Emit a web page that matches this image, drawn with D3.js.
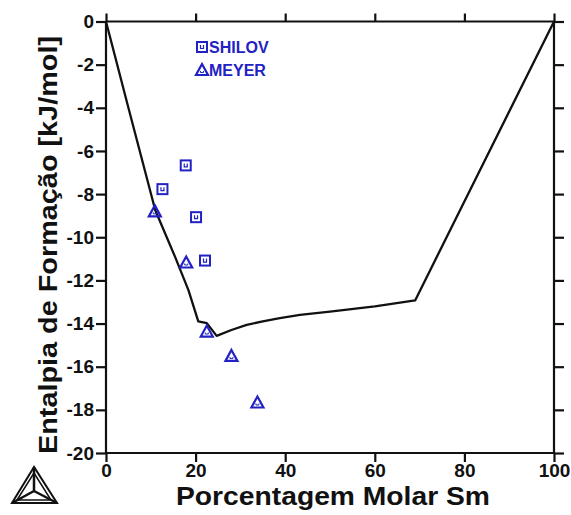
<!DOCTYPE html>
<html>
    <head>
        <meta charset="utf-8">
        <script src="https://d3js.org/d3.v7.min.js"></script>
        <style>
            body { margin: 0; background: #fff; }
            text { font-family: "Liberation Sans", Arial, sans-serif; font-weight: bold; }
        </style>
    </head>
    <body>
        <div id="my_dataviz"></div>
        <script>

            // calculated curve (Thermo-Calc)
            var curveX = [0, 5, 11, 15.4, 18.4, 20.6, 22.5, 24.7, 28, 31.4, 35, 38.8, 43.3, 50, 60, 69, 100];
            var curveY = [0, -4.0, -8.75, -10.9, -12.45, -13.9, -13.98, -14.57, -14.3, -14.06, -13.9, -13.75, -13.6, -13.45, -13.2, -12.93, 0];

            // experimental data
            var shilovX = [17.8, 12.6, 20.1, 22.1];
            var shilovY = [-6.67, -7.77, -9.07, -11.08];
            var meyerX = [10.9, 17.9, 22.5, 28.0, 33.8];
            var meyerY = [-8.8, -11.17, -14.37, -15.5, -17.66];

            var xTicks = [0, 20, 40, 60, 80, 100];
            var yTicks = [0, -2, -4, -6, -8, -10, -12, -14, -16, -18, -20];

            var width = 571,
                height = 515;
            var blue = "#2222c4";

            var svg = d3.select("#my_dataviz")
                .append("svg")
                    .attr("width", width)
                    .attr("height", height);

            var x = d3.scaleLinear().domain([0, 100]).range([106, 554]);
            var y = d3.scaleLinear().domain([-20, 0]).range([453, 21.5]);

            var plain = function(d) { return String(d) };

            // axes, ticks all pointing outward
            var axBottom = svg.append("g")
                .attr("transform", `translate(0, ${y(-20)})`)
                .call(d3.axisBottom(x).tickValues(xTicks).tickSize(9).tickPadding(2).tickFormat(plain));
            var axTop = svg.append("g")
                .attr("transform", `translate(0, ${y(0)})`)
                .call(d3.axisTop(x).tickValues(xTicks).tickSize(8).tickFormat(""));
            var axLeft = svg.append("g")
                .attr("transform", `translate(${x(0)}, 0)`)
                .call(d3.axisLeft(y).tickValues(yTicks).tickSize(10).tickPadding(2).tickFormat(plain));
            var axRight = svg.append("g")
                .attr("transform", `translate(${x(100)}, 0)`)
                .call(d3.axisRight(y).tickValues(yTicks).tickSize(10).tickFormat(""));

            [axBottom, axTop, axLeft, axRight].forEach(function(g) {
                g.attr("font-size", 19).attr("font-family", null);
                g.selectAll("path").attr("stroke", "#111").attr("stroke-width", 2.2);
                g.selectAll("line").attr("stroke", "#111").attr("stroke-width", 2.2);
                g.selectAll("text")
                    .attr("fill", "#111")
                    .attr("font-size", 19)
                    .style("font-size", "19px");
            });
            axBottom.select(".domain").attr("d", `M${x(0)},0H${x(100)}`);
            axTop.select(".domain").attr("d", `M${x(0)},0H${x(100)}`);
            axLeft.select(".domain").attr("d", `M0,${y(-20)}V${y(0)}`);
            axRight.select(".domain").attr("d", `M0,${y(-20)}V${y(0)}`);

            // curve
            var line = d3.line()
                .x(function(d) { return x(d[0]) })
                .y(function(d) { return y(d[1]) });
            svg.append("path")
                .datum(d3.zip(curveX, curveY))
                .attr("d", line)
                .attr("fill", "none")
                .attr("stroke", "#111")
                .attr("stroke-width", 2.3)
                .attr("stroke-linejoin", "round");

            // markers
            function square(g) {
                g.append("rect")
                    .attr("x", -5).attr("y", -5).attr("width", 10).attr("height", 10)
                    .attr("fill", "none").attr("stroke", blue).attr("stroke-width", 2);
                g.append("path")
                    .attr("d", "M-1.5,-2V1.5H1.5V-2")
                    .attr("fill", "none").attr("stroke", blue).attr("stroke-width", 1.2);
            }
            function triangle(g) {
                g.append("path")
                    .attr("d", "M0,-6L6,5H-6Z")
                    .attr("fill", "none").attr("stroke", blue).attr("stroke-width", 2.2)
                    .attr("stroke-linejoin", "miter");
                g.append("path")
                    .attr("d", "M-1.5,1V2.5H1.5V1")
                    .attr("fill", "none").attr("stroke", blue).attr("stroke-width", 1);
            }

            svg.selectAll("g.shilov")
                .data(d3.zip(shilovX, shilovY))
                .join("g")
                    .attr("class", "shilov")
                    .attr("transform", function(d) { return `translate(${x(d[0])}, ${y(d[1])})` })
                    .each(function() { square(d3.select(this)) });
            svg.selectAll("g.meyer")
                .data(d3.zip(meyerX, meyerY))
                .join("g")
                    .attr("class", "meyer")
                    .attr("transform", function(d) { return `translate(${x(d[0])}, ${y(d[1])})` })
                    .each(function() { triangle(d3.select(this)) });

            // legend
            var legend = [["SHILOV", square], ["MEYER", triangle]];
            legend.forEach(function(item, i) {
                var g = svg.append("g").attr("transform", `translate(202, ${47 + i * 23})`);
                item[1](g);
                g.append("text")
                    .attr("x", 7).attr("y", 6)
                    .attr("fill", blue)
                    .style("font-size", "16px")
                    .text(item[0]);
            });

            // axis titles
            svg.append("text")
                .attr("transform", "translate(57, 245) rotate(-90)")
                .attr("text-anchor", "middle")
                .attr("fill", "#111")
                .attr("textLength", 418)
                .attr("lengthAdjust", "spacingAndGlyphs")
                .style("font-size", "26px")
                .text("Entalpia de Formação [kJ/mol]");
            svg.append("text")
                .attr("x", 333).attr("y", 505)
                .attr("text-anchor", "middle")
                .attr("fill", "#111")
                .attr("textLength", 314)
                .attr("lengthAdjust", "spacingAndGlyphs")
                .style("font-size", "26px")
                .text("Porcentagem Molar Sm");

            // Thermo-Calc logo
            var logo = svg.append("g").attr("fill", "none").attr("stroke", "#111").attr("stroke-width", 2)
                .attr("stroke-linejoin", "miter");
            var A = [34, 467], B = [12, 503], C = [57, 503], O = [34, 491];
            logo.append("path").attr("d", `M${A}L${B}L${C}Z`);
            logo.append("path").attr("d", "M34,473L17,500H51Z").attr("stroke-width", 1.5);
            logo.append("path").attr("d", `M${A}L${O}M${B}L${O}M${C}L${O}`).attr("stroke-width", 2.5);

        </script>
    </body>
</html>
